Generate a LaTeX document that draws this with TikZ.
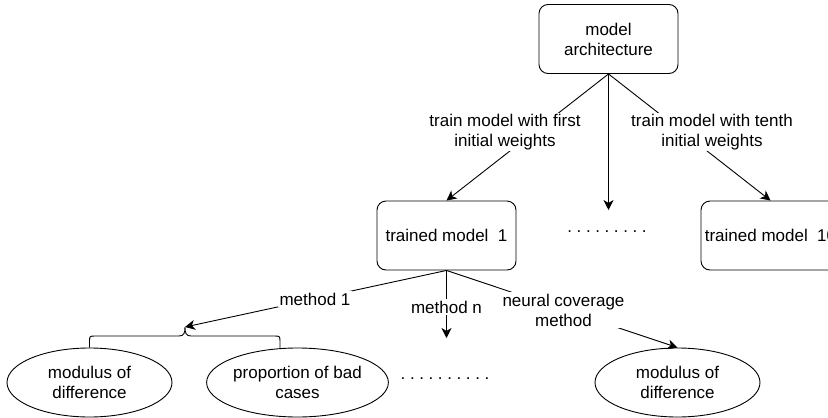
\documentclass[tikz,border=0pt]{standalone}
\usepackage{fontspec}
\setmainfont{Liberation Sans}
\usetikzlibrary{positioning, shapes.geometric, arrows.meta}
\tikzset{
	modelbox/.style={rectangle, draw, rounded corners=9pt, line width=0.9pt, minimum width=139pt, minimum height=69pt, align=center, inner sep=0pt},
	metric/.style={ellipse, draw, line width=0.9pt, minimum width=165pt, minimum height=69pt, align=center, inner sep=0pt},
	arrow/.style={-{Stealth[length=10pt,width=10pt,inset=3pt]}, line width=0.9pt}
}
\newcommand{\dotrow}[1]{\foreach \k in {1,...,#1}{.\hspace{4.6pt}}}

\begin{document}
\begin{tikzpicture}[
		x=1pt, y=-1pt,
		font=\fontsize{17}{20}\selectfont,
		edgelabel/.style={fill=white, align=center, inner sep=1.5pt},
		brace/.style={line width=0.9pt}
		]
		\clip (0,0) rectangle (828,418);
		
		\node[modelbox] (arch) at (608.5,39) {model\\architecture};
		\node[modelbox] (tm1) at (446.5,235.5) {trained model\ \ 1};
		\node[modelbox] (tm10) at (770.5,235.5) {trained model\ \ 10};
		\node (dotsmid) at (607,232) {\dotrow{9}};
		
		\node[metric] (mod1) at (89.5,382.5) {modulus of\\difference};
		\node[metric] (bad) at (297.5,382.5) {proportion of bad\\cases};
		\node[metric] (mod2) at (677.5,382.5) {modulus of\\difference};
		\node (dotsbot) at (445,379) {\dotrow{10}};
		
		\coordinate (midend) at (608.5,210);
		\coordinate (bracetip) at (185,327);
		\coordinate (nend) at (446.5,338);
		
		% training runs
		\draw[arrow] (arch.south) -- (tm1.north);
		\draw[arrow] (arch.south) -- (midend);
		\draw[arrow] (arch.south) -- (tm10.north);
		\node[edgelabel] (firstlbl) at (505,132) {train model with first\\initial weights};
		\node[edgelabel] (tenthlbl) at (712,132) {train model with tenth\\initial weights};
		
		% methods on model 1
		\draw[arrow] (tm1.south) -- (bracetip);
		\draw[arrow] (tm1.south) -- (nend);
		\draw[arrow] (tm1.south) -- (mod2.north);
		\node[edgelabel] (m1lbl) at (315,299) {method 1};
		\node[edgelabel] (mnlbl) at (446.5,307) {method n};
		\node[edgelabel] (nclbl) at (563.5,310) {neural coverage\\method};
		
		\draw[brace] (mod1.north) -- (89.5,342) .. controls (89.5,336) .. (95.5,336) -- (179,336)
		.. controls (184,336) and (185,333) .. (bracetip)
		.. controls (185,333) and (186,336) .. (191,336) -- (274,336)
		.. controls (280,336) .. (280,342) -- (280,348);
		
	\end{tikzpicture}
\end{document}
